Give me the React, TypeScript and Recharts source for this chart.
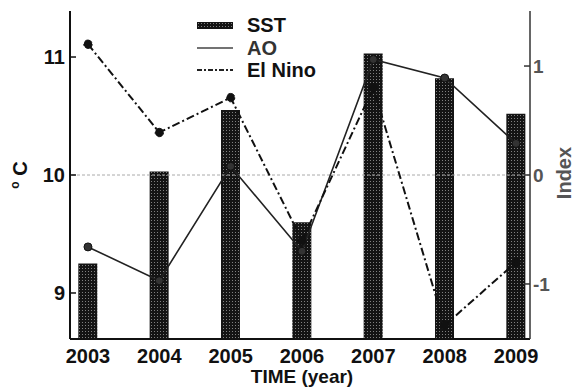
import React from "react";
import {
  ComposedChart,
  Bar,
  Line,
  XAxis,
  YAxis,
  Legend,
  ReferenceLine,
} from "recharts";

const YEARS = [2003, 2004, 2005, 2006, 2007, 2008, 2009];
const SST = [9.25, 10.03, 10.55, 9.6, 11.03, 10.82, 10.52];
const AO = [-0.66, -0.97, 0.08, -0.7, 1.06, 0.89, 0.29];
const EL_NINO = [1.2, 0.39, 0.71, -0.6, 0.8, -1.38, -0.8];

const SST_TICKS = [9, 10, 11];
const INDEX_TICKS = [-1, 0, 1];

const WIDTH = 579;
const HEIGHT = 387;
const PLOT_LEFT = 70;
const PLOT_RIGHT = 530;
const PLOT_TOP = 11;
const PLOT_BOTTOM = 339;
const FONT = "'Liberation Sans', Arial, sans-serif";

const data = YEARS.map((year, i) => ({
  year,
  sst: SST[i],
  ao: AO[i],
  elNino: EL_NINO[i],
}));

const LeftTick = ({ y, payload }: any) => (
  <g>
    <line x1={PLOT_LEFT} x2={PLOT_LEFT + 6} y1={y} y2={y} stroke="#111" strokeWidth={1.5} />
    <text
      x={PLOT_LEFT - 5}
      y={y}
      dy="0.36em"
      textAnchor="end"
      fontFamily={FONT}
      fontWeight="bold"
      fontSize={20}
      fill="#111"
    >
      {payload.value}
    </text>
  </g>
);

const RightTick = ({ y, payload }: any) => (
  <g>
    <line x1={PLOT_RIGHT - 6} x2={PLOT_RIGHT} y1={y} y2={y} stroke="#333" strokeWidth={1.5} />
    <text
      x={PLOT_RIGHT + 3}
      y={y}
      dy="0.36em"
      textAnchor="start"
      fontFamily={FONT}
      fontWeight="bold"
      fontSize={19}
      fill="#555"
    >
      {payload.value < 0 ? `-${Math.abs(payload.value)}` : payload.value}
    </text>
  </g>
);

const YearTick = ({ x, payload }: any) => (
  <text
    x={x}
    y={PLOT_BOTTOM + 24}
    textAnchor="middle"
    fontFamily={FONT}
    fontWeight="bold"
    fontSize={20}
    fill="#111"
  >
    {payload.value}
  </text>
);

const TopTick = ({ x }: any) => (
  <line x1={x} x2={x} y1={PLOT_TOP} y2={PLOT_TOP + 5} stroke="#222" strokeWidth={1.2} />
);

const LegendContent = () => {
  const rows = [
    { name: "SST", color: "#111", swatch: "bar" },
    { name: "AO", color: "#333", swatch: "solid" },
    { name: "El Nino", color: "#111", swatch: "dashdot" },
  ];
  return (
    <div style={{ fontFamily: FONT, fontWeight: "bold", fontSize: 20 }}>
      {rows.map((r) => (
        <div key={r.name} style={{ display: "flex", alignItems: "center", height: 22.5 }}>
          <svg width={50} height={12} style={{ display: "block" }}>
            {r.swatch === "bar" && <rect x={0} y={3} width={36} height={7} fill="url(#sstPattern)" />}
            {r.swatch === "solid" && <line x1={0} x2={36} y1={6} y2={6} stroke="#444" strokeWidth={1.5} />}
            {r.swatch === "dashdot" && (
              <line x1={0} x2={36} y1={6} y2={6} stroke="#222" strokeWidth={1.8} strokeDasharray="5 2 2 2" />
            )}
          </svg>
          <span style={{ color: r.color, lineHeight: 1 }}>{r.name}</span>
        </div>
      ))}
    </div>
  );
};

export default function App() {
  return (
    <div style={{ position: "absolute", left: 0, top: 0, background: "#fff" }}>
      <svg width={0} height={0} style={{ position: "absolute" }}>
        <defs>
          <pattern id="sstPattern" width={3} height={3} patternUnits="userSpaceOnUse">
            <rect width={3} height={3} fill="#141414" />
            <rect x={1} y={1} width={1} height={1} fill="#808080" />
          </pattern>
        </defs>
      </svg>
      <ComposedChart
        width={WIDTH}
        height={HEIGHT}
        data={data}
        margin={{ top: PLOT_TOP, right: 0, bottom: 0, left: 0 }}
      >
        <XAxis
          dataKey="year"
          type="number"
          domain={[2002.748, 2009.196]}
          ticks={YEARS}
          allowDataOverflow
          height={HEIGHT - PLOT_BOTTOM}
          tickLine={false}
          axisLine={{ stroke: "#111", strokeWidth: 2 }}
          tick={<YearTick />}
          label={{
            content: () => (
              <text
                x={302}
                y={383}
                textAnchor="middle"
                fontFamily={FONT}
                fontWeight="bold"
                fontSize={19}
                fill="#111"
              >
                TIME (year)
              </text>
            ),
          }}
        />
        <XAxis
          xAxisId="top"
          orientation="top"
          dataKey="year"
          type="number"
          domain={[2002.748, 2009.196]}
          ticks={YEARS}
          height={0}
          tickLine={false}
          axisLine={{ stroke: "#333", strokeWidth: 1.5, strokeDasharray: "2 1" }}
          tick={<TopTick />}
        />
        <YAxis
          yAxisId="left"
          orientation="left"
          width={PLOT_LEFT}
          domain={[8.61, 11.39]}
          ticks={SST_TICKS}
          allowDataOverflow
          tickLine={false}
          axisLine={{ stroke: "#111", strokeWidth: 2 }}
          tick={<LeftTick />}
          label={{
            content: () => (
              <text
                transform="rotate(-90, 27, 175)"
                x={27}
                y={175}
                textAnchor="middle"
                fontFamily={FONT}
                fontWeight="bold"
                fontSize={20}
                fill="#111"
              >
                <tspan fontSize={12} dy={-8}>o</tspan>
                <tspan dy={8}> C</tspan>
              </text>
            ),
          }}
        />
        <YAxis
          yAxisId="right"
          orientation="right"
          width={WIDTH - PLOT_RIGHT}
          domain={[-1.505, 1.505]}
          ticks={INDEX_TICKS}
          allowDataOverflow
          tickLine={false}
          axisLine={{ stroke: "#333", strokeWidth: 1.5 }}
          tick={<RightTick />}
          label={{
            content: () => (
              <text
                transform="rotate(-90, 571, 173)"
                x={571}
                y={173}
                textAnchor="middle"
                fontFamily={FONT}
                fontWeight="bold"
                fontSize={20}
                fill="#555"
              >
                Index
              </text>
            ),
          }}
        />
        <ReferenceLine yAxisId="right" y={0} stroke="#aaa" strokeWidth={1} strokeDasharray="3 2" />
        <Bar
          yAxisId="left"
          dataKey="sst"
          name="SST"
          barSize={19}
          fill="url(#sstPattern)"
          isAnimationActive={false}
        />
        <Line
          yAxisId="right"
          dataKey="ao"
          name="AO"
          stroke="#222"
          strokeWidth={1.6}
          dot={{ r: 4, fill: "#333", stroke: "#111", strokeWidth: 1 }}
          isAnimationActive={false}
        />
        <Line
          yAxisId="right"
          dataKey="elNino"
          name="El Nino"
          stroke="#111"
          strokeWidth={2}
          strokeDasharray="8 3 2 3"
          dot={{ r: 4.2, fill: "#111", stroke: "#111", strokeWidth: 1 }}
          isAnimationActive={false}
        />
        <Legend
          layout="horizontal"
          verticalAlign="middle"
          align="center"
          content={<LegendContent />}
          wrapperStyle={{ left: 197, top: 14, width: 140, height: 70 }}
        />
      </ComposedChart>
    </div>
  );
}
